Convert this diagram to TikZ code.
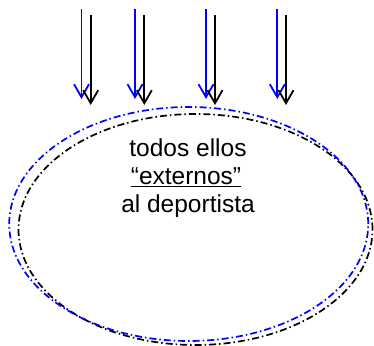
\documentclass[tikz,border=0pt]{standalone}
\usepackage{fontspec}
\setmainfont{Liberation Sans}
\usetikzlibrary{arrows.meta}
\begin{document}
\begin{tikzpicture}[x=1pt,y=1pt,
  bluearrow/.style={draw=blue,line width=1.8pt,-{Straight Barb[length=13pt,width=15pt,line width=1.8pt]}},
  blackarrow/.style={draw=black,line width=1.8pt,-{Straight Barb[length=13pt,width=15pt,line width=1.8pt]}},
  ring/.style={line width=1.7pt,dash pattern=on 7pt off 3pt on 1.5pt off 3pt},
  label/.style={font=\fontsize{24.5}{29}\selectfont,align=center,inner sep=0pt}]
\useasboundingbox (0,0) rectangle (374,345);
% arrows
\foreach \i/\bx/\kx in {1/81.5/90.7, 2/135/144.3, 3/206/215, 4/277.3/286} {
  \coordinate (bs\i) at (\bx,345-9.3);
  \coordinate (be\i) at (\bx,345-99);
  \coordinate (ks\i) at (\kx,345-15);
  \coordinate (ke\i) at (\kx,345-105);
  \draw[bluearrow] (bs\i) -- (be\i);
  \draw[blackarrow] (ks\i) -- (ke\i);
}
% ellipses
\draw[ring,draw=black] (195.5,345-229.5) ellipse [x radius=177,y radius=115.5];
\draw[ring,draw=blue] (188.7,345-224) ellipse [x radius=179.5,y radius=117];
% text
\node[label] (t1) at (188,345-148) {todos ellos};
\node[label] (t2) at (186,345-177) {\underline{“externos”}};
\node[label] (t3) at (188,345-206) {al deportista};
\end{tikzpicture}
\end{document}
